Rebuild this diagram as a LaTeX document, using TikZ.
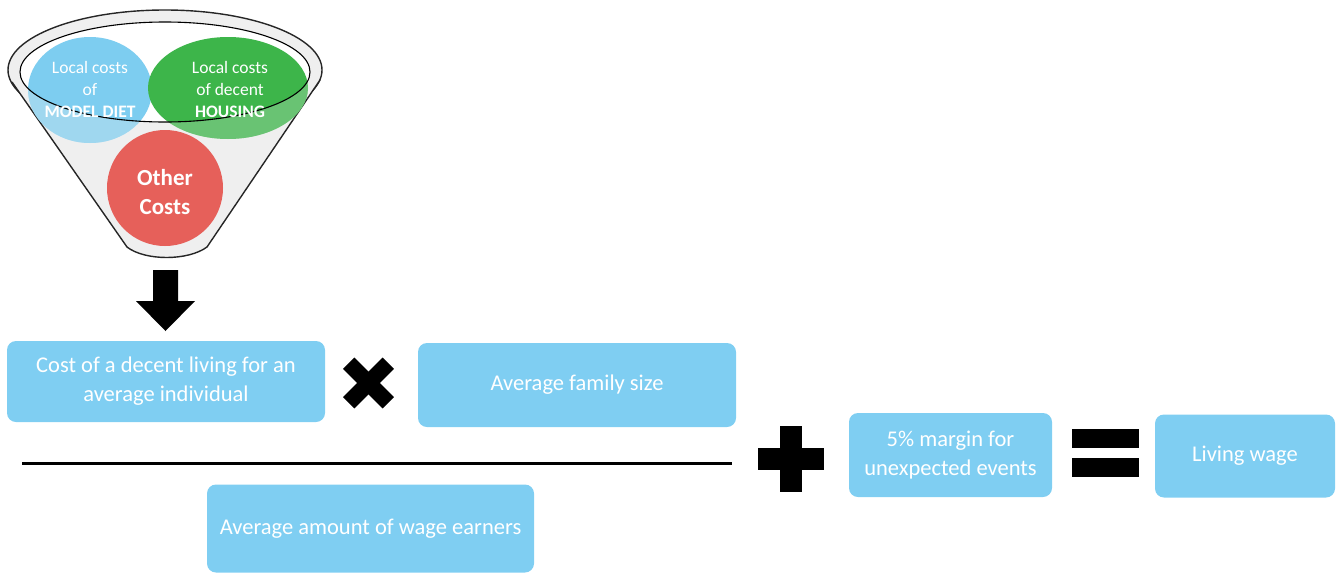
\documentclass[tikz,border=0pt]{standalone}
\usepackage{fontspec}
\setmainfont{Carlito}
\definecolor{boxblue}{HTML}{7FCEF2}
\definecolor{dietblue}{HTML}{7DCDF0}
\definecolor{housegreen}{HTML}{3DB54A}
\definecolor{otherred}{HTML}{E6605A}
\definecolor{funnelgray}{HTML}{EFEFEF}
\tikzset{
  box/.style={fill=boxblue, rounded corners=9pt, text=white, align=center, inner sep=0pt,
              font=\fontsize{22.5}{29}\selectfont},
  circtext/.style={text=white, align=center, inner sep=0pt, font=\fontsize{17.5}{22}\selectfont},
}
\begin{document}
\begin{tikzpicture}[x=1pt,y=-1pt]
\useasboundingbox (0,0) rectangle (1338,573);
% ---- funnel ----
\filldraw[fill=funnelgray, draw=black!85, line width=1.4pt] (165,70) ellipse[x radius=157, y radius=60];
\fill[funnelgray] (12,82) -- (127,247) .. controls (145,261) and (188,261) .. (207,247) -- (320,80) -- cycle;
\draw[black!85, line width=1.4pt] (12,82) -- (127,247) .. controls (145,261) and (188,261) .. (207,247) -- (320,80);
\fill[white] (165,72) ellipse[x radius=145, y radius=50];
\fill[dietblue] (90,90) ellipse[x radius=62, y radius=53];
\fill[housegreen] (228,88) ellipse[x radius=80, y radius=51];
\begin{scope}[even odd rule]
  \clip (0,0) rectangle (340,300) (165,72) ellipse[x radius=145, y radius=50];
  \fill[funnelgray, opacity=0.3] (90,90) ellipse[x radius=62, y radius=53];
  \fill[funnelgray, opacity=0.25] (228,88) ellipse[x radius=80, y radius=51];
\end{scope}
\draw[black, line width=1.1pt] (165,72) ellipse[x radius=145, y radius=50];
\fill[otherred] (165,188) circle[radius=58];
\node[circtext] (diet) at (90,89) {Local costs\\of\\\textbf{MODEL DIET}};
\node[circtext] (housing) at (230,89) {Local costs\\of decent\\\textbf{HOUSING}};
\node[circtext, font=\bfseries\fontsize{23}{29}\selectfont] (other) at (165,192) {Other\\Costs};
% ---- down arrow ----
\fill (153,270) -- (178,270) -- (178,301) -- (195,301) -- (165.5,331) -- (136,301) -- (153,301) -- cycle;
% ---- boxes ----
\node[box, minimum width=318pt, minimum height=81pt] (cost) at (166,381.5) {\raisebox{-2.5pt}{\begin{tabular}{@{}c@{}}Cost of a decent living for an\\average individual\end{tabular}}};
\node[box, minimum width=318pt, minimum height=84pt] (family) at (577,385) {Average family size};
\node[box, minimum width=327pt, minimum height=88pt] (earners) at (370.5,528.5) {\raisebox{-3pt}{Average amount of wage earners}};
\node[box, minimum width=203pt, minimum height=84pt] (margin) at (950.5,455) {\raisebox{-2pt}{\begin{tabular}{@{}c@{}}5\% margin for\\unexpected events\end{tabular}}};
\node[box, minimum width=180pt, minimum height=83pt] (wage) at (1245,456) {Living wage};
% ---- fraction line ----
\coordinate (lineL) at (22,463);
\coordinate (lineR) at (732,463);
\draw[line width=3pt] (lineL) -- (lineR);
% ---- times ----
\fill[rotate around={45:(368.5,383)}] (340.5,375) rectangle (396.5,391);
\fill[rotate around={-45:(368.5,383)}] (340.5,375) rectangle (396.5,391);
% ---- plus ----
\fill (780,426) rectangle (802,492);
\fill (758,448) rectangle (824,470);
% ---- equals ----
\fill (1072,429) rectangle (1139,448);
\fill (1072,458) rectangle (1139,477);
\end{tikzpicture}
\end{document}
